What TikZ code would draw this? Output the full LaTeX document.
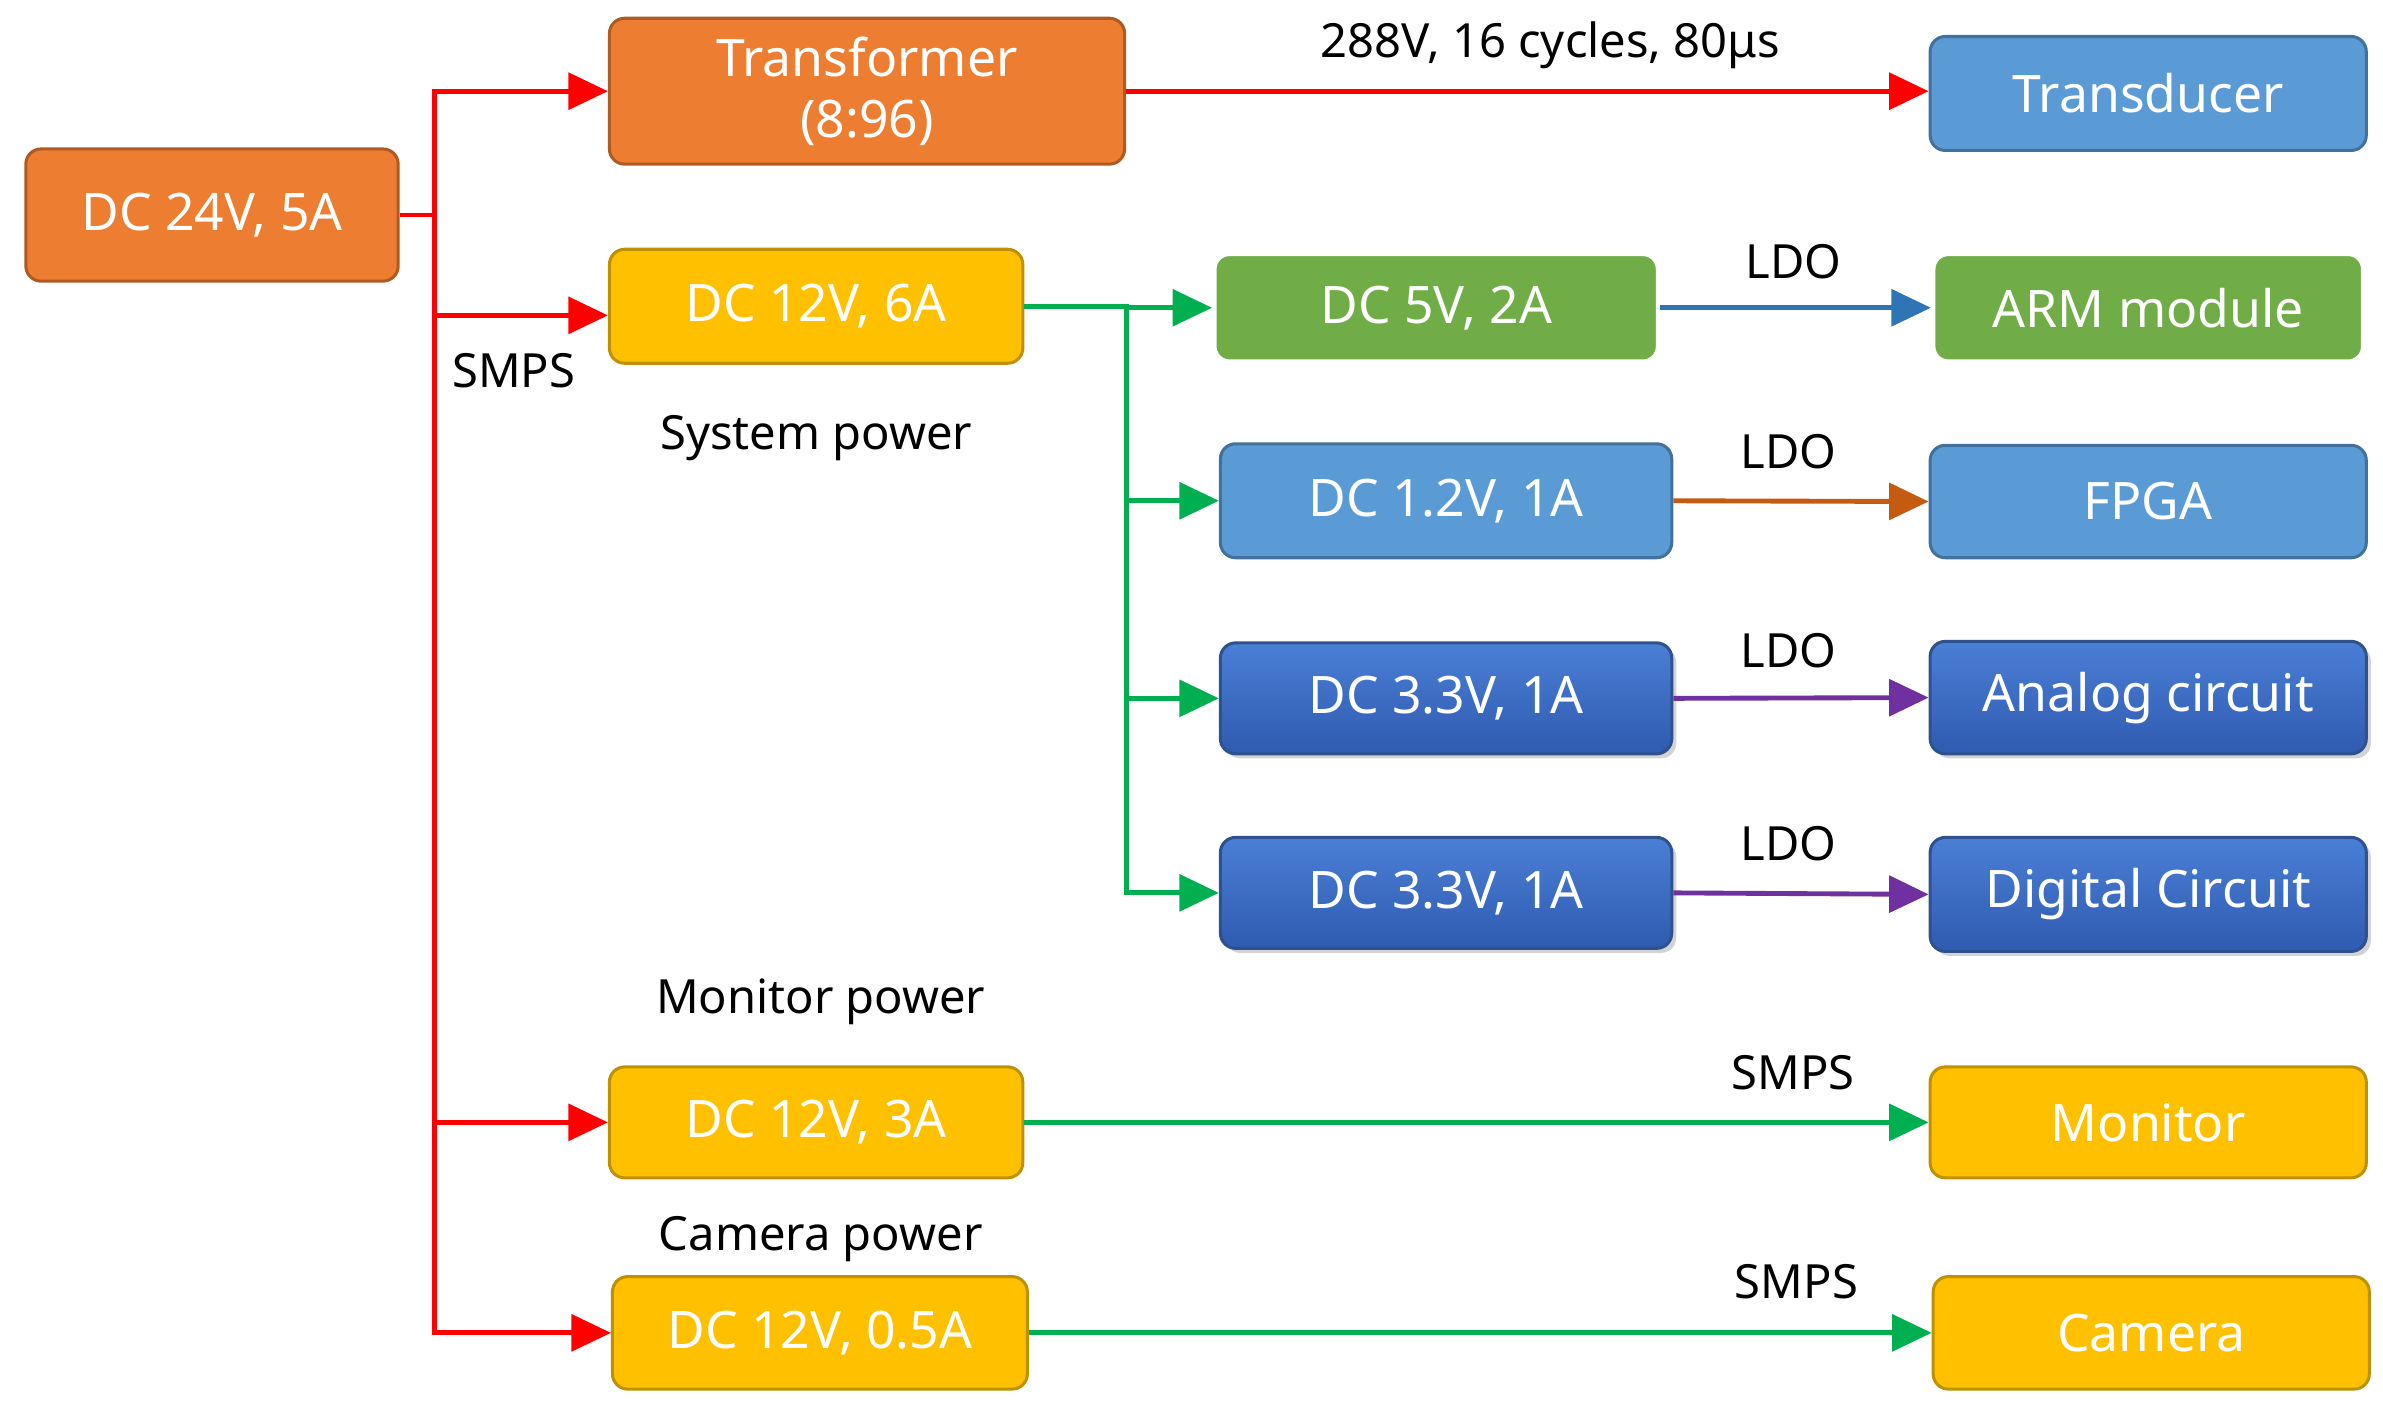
\documentclass[tikz,border=0pt]{standalone}
\usepackage{fontspec}
\setmainfont{Noto Sans}
\usetikzlibrary{arrows.meta,shadows}
\definecolor{org}{HTML}{ED7D31}\definecolor{orgb}{HTML}{AE5A21}
\definecolor{yel}{HTML}{FFC000}\definecolor{yelb}{HTML}{BF9000}
\definecolor{grn}{HTML}{70AD47}\definecolor{grnb}{HTML}{507E32}
\definecolor{blu}{HTML}{5B9BD5}\definecolor{blub}{HTML}{41719C}
\definecolor{dbt}{HTML}{4A7FD6}\definecolor{dbb}{HTML}{2F5BB0}\definecolor{dbl}{HTML}{2F528F}
\definecolor{lred}{HTML}{FF0000}\definecolor{lgrn}{HTML}{00B050}
\definecolor{lblu}{HTML}{2E75B6}\definecolor{lbrn}{HTML}{C55A11}\definecolor{lpur}{HTML}{7030A0}
\tikzset{
 box/.style={rounded corners=5pt,line width=1pt,inner sep=0pt,align=center,text=white,font=\fontsize{17}{20}\selectfont\bfseries},
 ob/.style={box,fill=org,draw=orgb},
 yb/.style={box,fill=yel,draw=yelb},
 gb/.style={box,fill=grn,draw=white,line width=1.5pt},
 bb/.style={box,fill=blu,draw=blub},
 db/.style={box,top color=dbt,bottom color=dbb,draw=dbl,drop shadow={opacity=0.35,shadow xshift=1.5pt,shadow yshift=-1.5pt}},
 ar/.style={line width=1.6pt,-{Triangle[length=13pt,width=12pt]}},
 lbl/.style={font=\fontsize{15.5}{18}\selectfont,text=black}
}
\begin{document}
\begin{tikzpicture}[x=0.5pt,y=-0.5pt]
\useasboundingbox (0,0) rectangle (1568,922);
\node[ob,minimum width=122.5pt,minimum height=43.5pt] (dc24) at (139.5,141.5) {DC 24V, 5A};
\node[ob,minimum width=169.5pt,minimum height=48pt] (trans) at (570.5,60) {Transformer\\(8:96)};
\node[bb,minimum width=143.5pt,minimum height=37.5pt] (tdc) at (1413.5,61.5) {Transducer};
\node[yb,minimum width=136pt,minimum height=37.5pt] (s12) at (537,201.5) {DC 12V, 6A};
\node[gb,minimum width=146pt,minimum height=35.5pt] (d5) at (945,202.5) {DC 5V, 2A};
\node[gb,minimum width=141.5pt,minimum height=35.5pt] (arm) at (1413.5,202.5) {ARM module};
\node[bb,minimum width=148.5pt,minimum height=37.5pt] (d12) at (951.5,329.5) {DC 1.2V, 1A};
\node[bb,minimum width=143.5pt,minimum height=37pt] (fpga) at (1413.5,330) {FPGA};
\node[db,minimum width=148.5pt,minimum height=36.5pt] (d33a) at (951.5,459.5) {DC 3.3V, 1A};
\node[db,minimum width=143.5pt,minimum height=37pt] (ana) at (1413.5,459) {Analog circuit};
\node[db,minimum width=148.5pt,minimum height=36.5pt] (d33b) at (951.5,587.5) {DC 3.3V, 1A};
\node[db,minimum width=143.5pt,minimum height=37.5pt] (dig) at (1413.5,588.5) {Digital Circuit};
\node[yb,minimum width=136pt,minimum height=36.5pt] (m12) at (537,738.5) {DC 12V, 3A};
\node[yb,minimum width=143.5pt,minimum height=36.5pt] (mon) at (1413.5,738.5) {Monitor};
\node[yb,minimum width=136.5pt,minimum height=37pt] (c12) at (539.5,877) {DC 12V, 0.5A};
\node[yb,minimum width=143.5pt,minimum height=37pt] (cam) at (1415.5,877) {Camera};
% red
\draw[ar,lred] (dc24.east) -- ++(23,0) |- (trans.west);
\draw[ar,lred] (dc24.east) -- ++(23,0) |- ([yshift=-3pt]s12.west);
\draw[ar,lred] (dc24.east) -- ++(23,0) |- (m12.west);
\draw[ar,lred] (dc24.east) -- ++(23,0) |- (c12.west);
\draw[ar,lred] (trans.east) -- (trans.east -| tdc.west);
% green
\draw[ar,lgrn] (s12.east) -- ++(67,0) |- (d5.west);
\draw[ar,lgrn] (s12.east) -- ++(67,0) |- (d12.west);
\draw[ar,lgrn] (s12.east) -- ++(67,0) |- (d33a.west);
\draw[ar,lgrn] (s12.east) -- ++(67,0) |- (d33b.west);
\draw[ar,lgrn] (m12.east) -- (mon.west);
\draw[ar,lgrn] (c12.east) -- (cam.west);
% LDO
\draw[ar,lblu] (d5.east) -- (arm.west);
\draw[ar,lbrn] (d12.east) -- (fpga.west);
\draw[ar,lpur] (d33a.east) -- (ana.west);
\draw[ar,lpur] (d33b.east) -- (dig.west);
% labels
\node[lbl] (l1) at (1020,30) {288V, 16 cycles, 80μs};
\node[lbl] (l2) at (338,244) {SMPS};
\node[lbl] (l3) at (537,288) {System power};
\node[lbl] (l4) at (1180,172) {LDO};
\node[lbl] (l5) at (1177,297) {LDO};
\node[lbl] (l6) at (1177,428) {LDO};
\node[lbl] (l7) at (1177,555) {LDO};
\node[lbl] (l8) at (540,659) {Monitor power};
\node[lbl] (l9) at (1180,706) {SMPS};
\node[lbl] (l10) at (540,815) {Camera power};
\node[lbl] (l11) at (1182,843) {SMPS};
\end{tikzpicture}
\end{document}
